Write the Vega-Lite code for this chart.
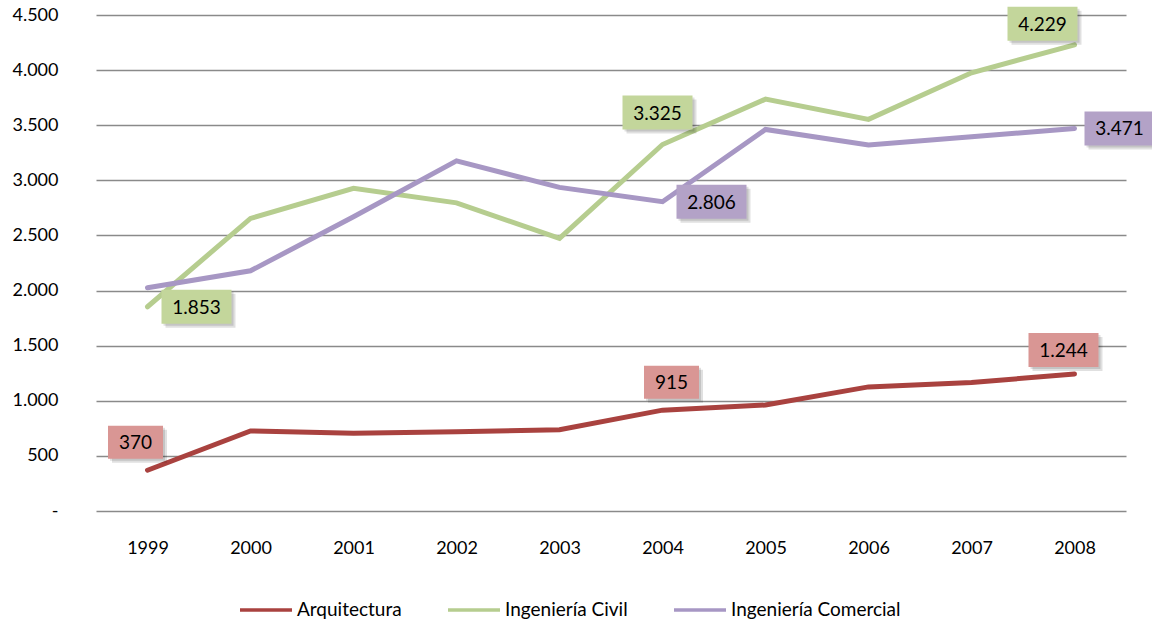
{
  "$schema": "https://vega.github.io/schema/vega-lite/v6.json",
  "autosize": "none",
  "width": 1030,
  "height": 496,
  "padding": {"left": 96, "top": 15, "right": 26, "bottom": 111},
  "background": "white",
  "config": {
    "view": {"stroke": null},
    "font": "Lato",
    "axis": {"labelFont": "Lato", "labelColor": "#000000", "titleFont": "Lato"},
    "legend": {"labelFont": "Lato"}
  },
  "data": {
    "values": [
      {"series": "Arquitectura", "year": "1999", "value": 370},
      {"series": "Arquitectura", "year": "2000", "value": 726},
      {"series": "Arquitectura", "year": "2001", "value": 705},
      {"series": "Arquitectura", "year": "2002", "value": 718},
      {"series": "Arquitectura", "year": "2003", "value": 738},
      {"series": "Arquitectura", "year": "2004", "value": 915},
      {"series": "Arquitectura", "year": "2005", "value": 962},
      {"series": "Arquitectura", "year": "2006", "value": 1126},
      {"series": "Arquitectura", "year": "2007", "value": 1165},
      {"series": "Arquitectura", "year": "2008", "value": 1244},
      {"series": "Ingeniería Civil", "year": "1999", "value": 1853},
      {"series": "Ingeniería Civil", "year": "2000", "value": 2654},
      {"series": "Ingeniería Civil", "year": "2001", "value": 2927},
      {"series": "Ingeniería Civil", "year": "2002", "value": 2796},
      {"series": "Ingeniería Civil", "year": "2003", "value": 2473},
      {"series": "Ingeniería Civil", "year": "2004", "value": 3325},
      {"series": "Ingeniería Civil", "year": "2005", "value": 3737},
      {"series": "Ingeniería Civil", "year": "2006", "value": 3553},
      {"series": "Ingeniería Civil", "year": "2007", "value": 3976},
      {"series": "Ingeniería Civil", "year": "2008", "value": 4229},
      {"series": "Ingeniería Comercial", "year": "1999", "value": 2025},
      {"series": "Ingeniería Comercial", "year": "2000", "value": 2179},
      {"series": "Ingeniería Comercial", "year": "2001", "value": 2669},
      {"series": "Ingeniería Comercial", "year": "2002", "value": 3177},
      {"series": "Ingeniería Comercial", "year": "2003", "value": 2936},
      {"series": "Ingeniería Comercial", "year": "2004", "value": 2806},
      {"series": "Ingeniería Comercial", "year": "2005", "value": 3462},
      {"series": "Ingeniería Comercial", "year": "2006", "value": 3320},
      {"series": "Ingeniería Comercial", "year": "2007", "value": 3395},
      {"series": "Ingeniería Comercial", "year": "2008", "value": 3471}
    ]
  },
  "encoding": {
    "x": {
      "field": "year", "type": "ordinal",
      "scale": {"type": "point", "padding": 0.5},
      "axis": {"title": null, "labelAngle": 0, "domain": false, "ticks": false, "grid": false, "labelFontSize": 18, "labelPadding": 28, "labelBaseline": "top"}
    },
    "y": {
      "field": "value", "type": "quantitative",
      "scale": {"domain": [0, 4500], "nice": false, "zero": true},
      "axis": {"title": null, "values": [0, 500, 1000, 1500, 2000, 2500, 3000, 3500, 4000, 4500], "domain": false, "ticks": false, "grid": true, "gridColor": "#8a8a8a", "gridWidth": 1.3, "labelFontSize": 18, "labelPadding": 38, "labelExpr": "datum.value == 0 ? '-' : replace(format(datum.value, ','), ',', '.')"}
    }
  },
  "layer": [
    {
      "mark": {"type": "line", "strokeWidth": 5, "strokeCap": "round", "strokeJoin": "miter"},
      "encoding": {
        "color": {
          "field": "series", "type": "nominal",
          "scale": {"domain": ["Arquitectura", "Ingeniería Civil", "Ingeniería Comercial"], "range": ["#a9423f", "#b6cd8f", "#a797c4"]},
          "legend": {
            "title": null, "orient": "none", "legendX": 142, "legendY": 567, "direction": "horizontal",
            "symbolType": "stroke", "symbolSize": 2704, "symbolStrokeWidth": 3.5,
            "labelFontSize": 19, "labelColor": "#000000", "labelOffset": 3, "columnPadding": 39, "labelLimit": 400
          }
        }
      }
    },
    {
      "transform": [
        {"filter": "indexof(['Arquitectura1999','Arquitectura2004','Arquitectura2008','Ingeniería Civil1999','Ingeniería Civil2004','Ingeniería Civil2008','Ingeniería Comercial2004','Ingeniería Comercial2008'], datum.series + datum.year) >= 0"},
        {"calculate": "datum.series + datum.year", "as": "key"},
        {"calculate": "replace(format(datum.value, ','), ',', '.')", "as": "label"}
      ],
      "layer": [
        {
          "mark": {"type": "point", "filled": true, "size": 4, "opacity": 0.12, "strokeWidth": 0},
          "encoding": {
            "shape": {
              "field": "key", "type": "nominal", "legend": null,
              "scale": {
                "domain": ["Arquitectura1999","Arquitectura2004","Arquitectura2008","Ingeniería Civil1999","Ingeniería Civil2004","Ingeniería Civil2008","Ingeniería Comercial2004","Ingeniería Comercial2008"],
                "range": ["M-35.5,-40.5h55v33h-55z","M-14.5,-40.5h55v33h-55z","M-42,-37h70v34h-70z","M18,-13h70v34h-70z","M-36,-45h70v34h-70z","M-63,-34h70v34h-70z","M18,-13h70v34h-70z","M14,-13h70v34h-70z"]
              }
            },
            "color": {"value": "#000000"}
          }
        },
        {
          "mark": {"type": "point", "filled": true, "size": 4, "opacity": 0.12, "strokeWidth": 0},
          "encoding": {
            "shape": {
              "field": "key", "type": "nominal", "legend": null,
              "scale": {
                "domain": ["Arquitectura1999","Arquitectura2004","Arquitectura2008","Ingeniería Civil1999","Ingeniería Civil2004","Ingeniería Civil2008","Ingeniería Comercial2004","Ingeniería Comercial2008"],
                "range": ["M-37.5,-42.5h55v33h-55z","M-16.5,-42.5h55v33h-55z","M-44,-39h70v34h-70z","M16,-15h70v34h-70z","M-38,-47h70v34h-70z","M-65,-36h70v34h-70z","M16,-15h70v34h-70z","M12,-15h70v34h-70z"]
              }
            },
            "color": {"value": "#000000"}
          }
        },
        {
          "mark": {"type": "point", "filled": true, "size": 4, "opacity": 1, "strokeWidth": 0},
          "encoding": {
            "shape": {
              "field": "key", "type": "nominal", "legend": null,
              "scale": {
                "domain": ["Arquitectura1999","Arquitectura2004","Arquitectura2008","Ingeniería Civil1999","Ingeniería Civil2004","Ingeniería Civil2008","Ingeniería Comercial2004","Ingeniería Comercial2008"],
                "range": ["M-39.5,-44.5h55v33h-55z","M-18.5,-44.5h55v33h-55z","M-46,-41h70v34h-70z","M14,-17h70v34h-70z","M-40,-49h70v34h-70z","M-67,-38h70v34h-70z","M14,-17h70v34h-70z","M10,-17h70v34h-70z"]
              }
            },
            "fill": {
              "field": "series", "type": "nominal", "legend": null,
              "scale": {"domain": ["Arquitectura", "Ingeniería Civil", "Ingeniería Comercial"], "range": ["#d99694", "#c3d69b", "#b3a2c7"]}
            }
          }
        },
        {
          "mark": {
            "type": "text", "fontSize": 19, "font": "Lato", "color": "#000000", "align": "center", "baseline": "middle",
            "dx": {"expr": "datum.key=='Arquitectura1999' ? -12 : datum.key=='Arquitectura2004' ? 9 : datum.key=='Arquitectura2008' ? -11 : datum.key=='Ingeniería Civil1999' ? 49 : datum.key=='Ingeniería Civil2004' ? -5 : datum.key=='Ingeniería Civil2008' ? -32 : datum.key=='Ingeniería Comercial2004' ? 49 : 45"},
            "dy": {"expr": "datum.key=='Arquitectura1999' ? -27 : datum.key=='Arquitectura2004' ? -27 : datum.key=='Arquitectura2008' ? -23 : datum.key=='Ingeniería Civil1999' ? 1 : datum.key=='Ingeniería Civil2004' ? -31 : datum.key=='Ingeniería Civil2008' ? -20 : 1"}
          },
          "encoding": {"text": {"field": "label", "type": "nominal"}}
        }
      ],
      "resolve": {"scale": {"shape": "independent"}}
    }
  ]
}
